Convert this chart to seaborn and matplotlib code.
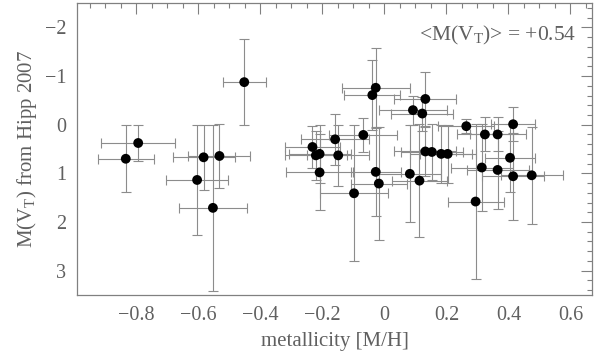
import numpy as np
import pandas as pd
import matplotlib
matplotlib.use("Agg")
import matplotlib.pyplot as plt
import seaborn as sns
from matplotlib.ticker import MultipleLocator, FixedLocator

# ---- data ----
metallicity = [-0.834, -0.794, -0.604, -0.583, -0.553, -0.532, -0.452,
               -0.232, -0.221, -0.209, -0.209, -0.159, -0.149, -0.098, -0.068,
               -0.039, -0.028, -0.028, -0.018,
               0.082, 0.092, 0.113, 0.122, 0.132, 0.132, 0.153, 0.183, 0.204,
               0.264, 0.294, 0.314, 0.324, 0.365, 0.365, 0.405, 0.415, 0.415, 0.475]
mag = [0.70, 0.376, 1.136, 0.67, 1.71, 0.643, -0.876,
       0.458, 0.63, 0.60, 0.98, 0.30, 0.63, 1.41, 0.21, -0.61, -0.76, 0.97, 1.21,
       1.01, -0.30, 1.15, -0.23, -0.53, 0.55, 0.56, 0.60, 0.60, 0.03, 1.58,
       0.88, 0.20, 0.20, 0.93, 0.68, -0.01, 1.06, 1.04]
mag_err = [0.69, 0.37, 1.13, 0.67, 1.70, 0.65, 0.89,
           0.43, 0.50, 0.60, 0.78, 0.53, 0.63, 1.40, 0.35, 0.72, 0.81, 0.90, 1.17,
           1.00, 0.30, 1.16, 0.35, 0.56, 0.50, 0.57, 0.60, 0.60, 0.15, 1.60,
           0.90, 0.35, 0.35, 0.80, 0.70, 0.35, 0.90, 1.00]
met_err = [0.09, 0.12, 0.10, 0.10, 0.11, 0.10, 0.07,
           0.09, 0.10, 0.10, 0.107, 0.11, 0.10, 0.11, 0.11, 0.09, 0.11, 0.08, 0.09,
           0.10, 0.11, 0.09, 0.10, 0.10, 0.10, 0.10, 0.10, 0.09, 0.09, 0.09,
           0.10, 0.09, 0.09, 0.10, 0.08, 0.07, 0.10, 0.10]
x_ticks = [-0.8, -0.6, -0.4, -0.2, 0, 0.2, 0.4, 0.6]
x_ticklabels = ["\u22120.8", "\u22120.6", "\u22120.4", "\u22120.2", "0", "0.2", "0.4", "0.6"]
y_ticks = [-2, -1, 0, 1, 2, 3]
y_ticklabels = ["\u22122", "\u22121", "0", "1", "2", "3"]
mean_text = r"<M(V$_\mathrm{T}$)> = +0.54"

df = pd.DataFrame({"met": metallicity, "mag": mag,
                   "met_err": met_err, "mag_err": mag_err})

sns.set_theme(style="white")
plt.rcParams["font.family"] = ["Liberation Serif", "DejaVu Serif"]
plt.rcParams["mathtext.fontset"] = "custom"
plt.rcParams["mathtext.rm"] = "Liberation Serif"
plt.rcParams["mathtext.default"] = "regular"

TXT = "#606060"
FRAME = "#808080"

fig = plt.figure(figsize=(6.0, 3.54), dpi=100)
ax = fig.add_axes([0.129, 0.167, 0.858, 0.824])

ax.errorbar(df["met"], df["mag"], xerr=df["met_err"], yerr=df["mag_err"],
            fmt="none", ecolor="#8c8c8c", elinewidth=0.8, capsize=3.5,
            capthick=0.8, zorder=1)
sns.scatterplot(data=df, x="met", y="mag", ax=ax, color="black", s=50,
                edgecolor="none", zorder=3, legend=False)

ax.set_xlim(-0.99, 0.67)
ax.set_ylim(3.5, -2.5)

ax.xaxis.set_major_locator(FixedLocator(x_ticks))
ax.set_xticklabels(x_ticklabels)
ax.xaxis.set_minor_locator(MultipleLocator(0.05))
ax.yaxis.set_major_locator(FixedLocator(y_ticks))
ax.set_yticklabels(y_ticklabels)
ax.yaxis.set_minor_locator(MultipleLocator(0.2))

ax.tick_params(which="both", direction="in", top=True, right=True,
               color=FRAME, width=0.8, labelcolor=TXT, labelsize=14.5)
ax.tick_params(which="major", length=8)
ax.tick_params(which="minor", length=3.5)
ax.tick_params(axis="x", pad=8)
ax.tick_params(axis="y", pad=8)

for sp in ax.spines.values():
    sp.set_color(FRAME)
    sp.set_linewidth(0.9)

ax.set_xlabel("metallicity [M/H]", color=TXT, fontsize=15, labelpad=5)
ax.set_ylabel(r"M(V$_\mathrm{T}$) from Hipp 2007", color=TXT, fontsize=15, labelpad=4)

ax.text(0.97, 0.89, mean_text, transform=ax.transAxes, ha="right", va="center",
        color=TXT, fontsize=15.5)

fig.savefig("out.png", dpi=100)
